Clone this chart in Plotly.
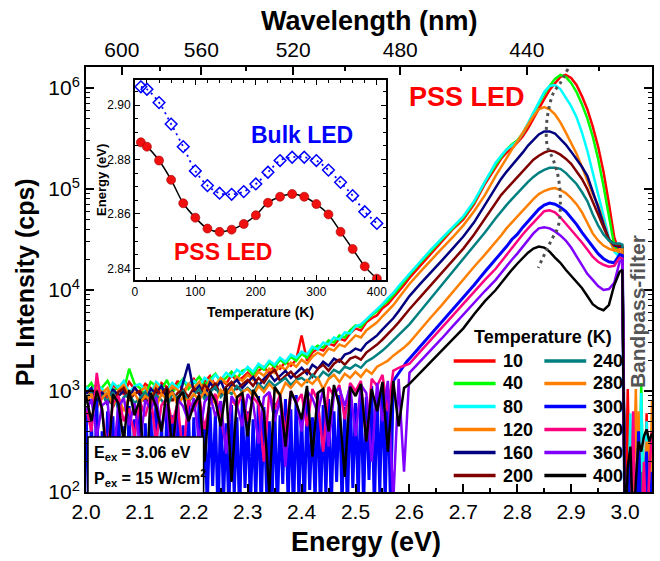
import plotly.graph_objects as go

# ---------------- main spectra data (log10 of PL intensity in cps) ----------------
E_NOISE = [2.00, 2.01, 2.02, 2.03, 2.04, 2.05, 2.06, 2.07, 2.08, 2.09,
           2.10, 2.11, 2.12, 2.13, 2.14, 2.15, 2.16, 2.17, 2.18, 2.19,
           2.20, 2.21, 2.22, 2.23, 2.24, 2.25, 2.26, 2.27, 2.28, 2.29,
           2.30, 2.31, 2.32, 2.33, 2.34, 2.35, 2.36, 2.37, 2.38, 2.39,
           2.40, 2.41, 2.42, 2.43, 2.44, 2.45, 2.46, 2.47, 2.48, 2.49,
           2.50, 2.51, 2.52, 2.53, 2.54, 2.55, 2.56, 2.57, 2.58, 2.59]
E_NOISE_FINE = [2.000, 2.005, 2.010, 2.015, 2.020, 2.025, 2.030, 2.035, 2.040, 2.045,
                2.050, 2.055, 2.060, 2.065, 2.070, 2.075, 2.080, 2.085, 2.090, 2.095,
                2.100, 2.105, 2.110, 2.115, 2.120, 2.125, 2.130, 2.135, 2.140, 2.145,
                2.150, 2.155, 2.160, 2.165, 2.170, 2.175, 2.180, 2.185, 2.190, 2.195,
                2.200, 2.205, 2.210, 2.215, 2.220, 2.225, 2.230, 2.235, 2.240, 2.245,
                2.250, 2.255, 2.260, 2.265, 2.270, 2.275, 2.280, 2.285, 2.290, 2.295,
                2.300, 2.305, 2.310, 2.315, 2.320, 2.325, 2.330, 2.335, 2.340, 2.345,
                2.350, 2.355, 2.360, 2.365, 2.370, 2.375, 2.380, 2.385, 2.390, 2.395,
                2.400, 2.405, 2.410, 2.415, 2.420, 2.425, 2.430, 2.435, 2.440, 2.445,
                2.450, 2.455, 2.460, 2.465, 2.470, 2.475, 2.480, 2.485, 2.490, 2.495,
                2.500, 2.505, 2.510, 2.515, 2.520, 2.525, 2.530, 2.535, 2.540, 2.545,
                2.550, 2.555, 2.560, 2.565, 2.570, 2.575, 2.580, 2.585, 2.590, 2.595]
E_PEAK = [2.60, 2.62, 2.64, 2.66, 2.68, 2.70, 2.72, 2.74,
          2.76, 2.77, 2.78, 2.79, 2.80, 2.81, 2.82, 2.83, 2.84, 2.85, 2.86, 2.87,
          2.88, 2.89, 2.90, 2.91, 2.92, 2.93, 2.94, 2.95, 2.96, 2.97, 2.98, 2.99, 2.995]
E_FILTER = [3.000, 3.005, 3.010, 3.015, 3.020, 3.025, 3.030, 3.035, 3.040, 3.045, 3.050]

TEMPS = [10, 40, 80, 120, 160, 200, 240, 280, 300, 320, 360, 400]
COLORS = ['#FF0000', '#00FF00', '#00FFFF', '#FF8000', '#000080', '#800000',
          '#008080', '#FF8000', '#0000FF', '#FF0080', '#8000FF', '#000000']
WIDTHS = [2.5, 2.5, 2.5, 2.5, 2.5, 2.5, 2.5, 2.5, 3.0, 2.5, 2.5, 2.5]

NOISE_10K = [3.05, 2.96, 3.08, 3.00, 2.93, 3.06, 3.01, 2.97, 3.09, 3.02,
             2.98, 3.07, 3.03, 2.92, 3.08, 3.04, 3.00, 3.10, 2.99, 3.06,
             3.12, 3.03, 3.09, 3.15, 3.05, 3.11, 3.07, 3.16, 3.10, 3.13,
             3.18, 3.12, 3.20, 3.24, 3.17, 3.26, 3.22, 3.29, 3.25, 3.31,
             3.55, 3.30, 3.38, 3.42, 3.40, 3.47, 3.45, 3.52, 3.50, 3.57,
             3.62, 3.60, 3.68, 3.72, 3.75, 3.82, 3.86, 3.92, 3.98, 4.05]
NOISE_40K = [3.02, 3.08, 2.97, 3.04, 3.10, 2.99, 3.05, 3.00, 3.22, 3.07,
             3.03, 2.96, 3.09, 3.05, 3.01, 3.11, 2.98, 3.06, 3.12, 3.02,
             3.08, 3.14, 3.06, 3.11, 3.17, 3.09, 3.13, 3.19, 3.12, 3.20,
             3.22, 3.16, 3.25, 3.21, 3.28, 3.24, 3.31, 3.27, 3.34, 3.30,
             3.37, 3.33, 3.41, 3.45, 3.43, 3.50, 3.48, 3.55, 3.53, 3.60,
             3.65, 3.63, 3.70, 3.75, 3.79, 3.85, 3.89, 3.95, 4.02, 4.08]
NOISE_80K = [3.04, 2.99, 3.06, 3.02, 2.96, 3.08, 3.03, 3.10, 2.98, 3.05,
             3.07, 3.01, 2.97, 3.09, 3.04, 3.00, 3.08, 3.03, 3.11, 3.06,
             3.10, 3.05, 3.13, 3.09, 3.16, 3.11, 3.18, 3.14, 3.21, 3.17,
             3.24, 3.19, 3.27, 3.23, 3.30, 3.26, 3.33, 3.29, 3.36, 3.33,
             3.39, 3.36, 3.44, 3.41, 3.48, 3.46, 3.53, 3.51, 3.58, 3.57,
             3.64, 3.66, 3.71, 3.76, 3.81, 3.86, 3.92, 3.97, 4.04, 4.10]
NOISE_120K = [3.00, 2.94, 3.05, 2.98, 3.03, 2.90, 3.01, 3.06, 2.96, 3.02,
              2.99, 3.04, 2.93, 3.06, 3.00, 2.97, 3.05, 3.01, 2.95, 3.07,
              3.03, 3.09, 3.00, 3.11, 3.06, 3.13, 3.08, 3.04, 3.14, 3.10,
              3.16, 3.11, 3.19, 3.15, 3.22, 3.18, 3.25, 3.21, 3.28, 3.24,
              3.31, 3.27, 3.34, 3.38, 3.35, 3.42, 3.40, 3.46, 3.44, 3.50,
              3.55, 3.53, 3.60, 3.64, 3.68, 3.74, 3.79, 3.85, 3.92, 3.99]
NOISE_160K = [2.97, 3.03, 2.90, 2.99, 2.86, 3.02, 2.95, 3.00, 2.92, 3.04,
              2.96, 2.89, 3.02, 2.98, 3.05, 2.93, 3.00, 2.87, 3.08, 3.27,
              2.99, 3.05, 2.94, 3.08, 3.02, 3.10, 2.97, 3.06, 3.11, 3.03,
              3.09, 3.14, 3.05, 3.12, 3.17, 3.10, 3.15, 3.20, 3.13, 3.18,
              3.23, 3.17, 3.26, 3.22, 3.29, 3.25, 3.32, 3.29, 3.36, 3.38,
              3.42, 3.40, 3.47, 3.51, 3.55, 3.61, 3.66, 3.72, 3.79, 3.87]
NOISE_200K = [2.95, 2.88, 3.01, 2.93, 2.98, 2.84, 2.99, 3.03, 2.91, 2.97,
              3.00, 2.92, 2.86, 3.02, 2.96, 3.04, 2.90, 2.98, 3.01, 2.94,
              3.03, 2.97, 3.06, 3.00, 3.08, 2.95, 3.04, 3.09, 3.02, 3.07,
              3.11, 3.05, 3.13, 3.08, 3.16, 3.21, 3.10, 3.15, 3.19, 3.13,
              3.17, 3.21, 3.14, 3.22, 3.26, 3.20, 3.27, 3.31, 3.26, 3.32,
              3.34, 3.31, 3.38, 3.42, 3.46, 3.51, 3.56, 3.62, 3.68, 3.75]
NOISE_240K = [2.92, 2.98, 2.85, 2.95, 2.90, 2.99, 2.82, 2.94, 2.97, 2.88,
              2.93, 2.99, 2.87, 2.96, 2.91, 2.83, 2.97, 2.93, 3.00, 2.89,
              2.96, 3.02, 2.92, 2.99, 3.04, 2.94, 3.01, 2.97, 3.05, 2.99,
              3.03, 2.98, 3.07, 3.02, 3.10, 3.05, 3.09, 3.13, 3.06, 3.11,
              3.13, 3.09, 3.16, 3.12, 3.19, 3.15, 3.21, 3.18, 3.24, 3.22,
              3.26, 3.23, 3.29, 3.32, 3.36, 3.40, 3.45, 3.50, 3.55, 3.61]
NOISE_280K = [2.90, 2.97, 2.83, 2.93, 2.99, 2.86, 2.95, 2.80, 2.94, 2.98,
              2.88, 2.95, 2.91, 2.84, 2.97, 2.92, 2.99, 2.86, 2.94, 2.90,
              2.97, 2.91, 3.00, 2.94, 2.88, 3.01, 2.96, 3.03, 2.93, 2.99,
              3.02, 2.95, 3.05, 2.99, 3.07, 3.01, 2.96, 3.08, 3.03, 3.10,
              3.05, 3.11, 3.07, 3.13, 3.02, 3.12, 3.16, 3.09, 3.17, 3.13,
              3.19, 3.14, 3.21, 3.17, 3.24, 3.27, 3.30, 3.35, 3.39, 3.43]
NOISE_300K = [2.85, 1.80, 2.70, 1.95, 2.90, 1.75, 2.60, 2.05, 2.80, 1.85,
              2.75, 1.70, 2.92, 2.00, 2.65, 1.80, 2.85, 1.90, 2.72, 1.78,
              2.88, 1.95, 2.68, 1.82, 2.80, 2.10, 2.93, 1.76, 2.70, 1.88,
              2.82, 1.72, 2.76, 2.02, 2.90, 1.84, 2.66, 1.92, 2.86, 1.78,
              2.74, 1.98, 2.94, 1.80, 2.70, 1.86, 2.84, 2.06, 2.78, 1.74,
              2.90, 1.90, 2.68, 1.82, 2.86, 1.96, 2.74, 1.76, 2.92, 2.04,
              2.80, 1.84, 2.72, 1.92, 2.95, 1.78, 2.84, 2.00, 2.70, 1.86,
              2.88, 1.80, 2.76, 2.08, 2.92, 1.88, 2.82, 1.74, 2.96, 1.94,
              2.78, 1.82, 2.90, 2.02, 2.74, 1.90, 2.98, 1.78, 2.86, 1.96,
              2.92, 1.84, 2.80, 2.10, 2.96, 1.88, 2.84, 1.80, 3.00, 2.04,
              2.88, 1.92, 3.02, 1.86, 2.94, 2.12, 3.05, 1.82, 2.98, 2.00,
              3.08, 1.90, 3.02, 1.85, 3.10, 3.14, 3.18, 3.22, 3.26, 3.29]
NOISE_320K = [2.85, 2.60, 3.18, 2.78, 2.40, 2.88, 2.95, 2.70, 2.83, 2.55,
              2.90, 2.75, 2.96, 2.50, 2.86, 2.93, 2.68, 2.88, 2.35, 2.91,
              2.80, 2.95, 2.62, 2.89, 2.97, 2.74, 2.45, 2.92, 2.84, 2.98,
              2.70, 2.94, 2.87, 2.30, 2.99, 2.82, 2.96, 2.58, 3.00, 2.88,
              2.97, 2.65, 3.02, 2.90, 2.40, 3.04, 2.95, 3.06, 2.72, 3.08,
              3.00, 3.10, 2.50, 3.12, 3.05, 3.16, 2.80, 3.20, 3.23, 3.25]
NOISE_360K = [2.80, 2.92, 2.55, 2.86, 2.90, 2.30, 2.84, 2.93, 2.66, 2.88,
              2.45, 2.91, 2.82, 2.94, 2.60, 2.87, 2.20, 2.92, 2.85, 2.70,
              2.93, 2.50, 2.89, 2.96, 2.75, 2.90, 2.38, 2.95, 2.86, 2.65,
              2.97, 2.88, 2.48, 2.94, 2.99, 2.70, 2.92, 2.25, 2.98, 2.90,
              2.60, 3.00, 2.93, 2.78, 3.02, 2.45, 2.97, 3.03, 2.85, 3.05,
              2.55, 3.06, 2.98, 2.30, 3.08, 2.70, 3.10, 1.90, 3.12, 2.20]
NOISE_400K = [2.95, 2.70, 3.00, 2.82, 2.20, 2.97, 2.88, 2.50, 3.01, 2.76,
              2.92, 1.90, 2.98, 2.85, 2.60, 3.02, 2.40, 2.93, 2.99, 2.70,
              2.86, 2.96, 2.30, 3.00, 2.90, 2.65, 3.03, 2.10, 2.94, 2.98,
              2.55, 3.01, 2.92, 2.80, 2.00, 3.04, 2.96, 2.45, 3.00, 2.88,
              2.72, 3.05, 2.35, 2.98, 3.02, 2.60, 3.06, 2.85, 2.15, 3.04,
              2.95, 3.07, 2.50, 3.02, 2.80, 3.09, 2.40, 3.10, 2.65, 3.03]

PEAK_10K = [4.12, 4.24, 4.37, 4.48, 4.60, 4.70, 4.85, 5.05,
            5.22, 5.30, 5.36, 5.40, 5.46, 5.52, 5.60, 5.70, 5.80, 5.89, 5.98, 6.05,
            6.11, 6.13, 6.10, 6.03, 5.92, 5.79, 5.62, 5.42, 5.17, 4.86, 4.52, 4.36, 4.32]
PEAK_40K = [4.15, 4.27, 4.39, 4.50, 4.61, 4.72, 4.87, 5.07,
            5.24, 5.32, 5.39, 5.44, 5.48, 5.55, 5.64, 5.75, 5.85, 5.94, 6.02, 6.09,
            6.13, 6.11, 6.05, 5.96, 5.84, 5.70, 5.52, 5.30, 5.03, 4.72, 4.44, 4.35, 4.32]
PEAK_80K = [4.17, 4.29, 4.40, 4.51, 4.62, 4.73, 4.88, 5.07,
            5.26, 5.33, 5.39, 5.43, 5.47, 5.55, 5.65, 5.76, 5.86, 5.96, 6.02, 6.03,
            5.99, 5.91, 5.82, 5.71, 5.56, 5.38, 5.17, 4.95, 4.74, 4.52, 4.38, 4.33, 4.30]
PEAK_120K = [4.06, 4.18, 4.30, 4.41, 4.52, 4.64, 4.78, 4.94,
             5.13, 5.22, 5.31, 5.39, 5.47, 5.56, 5.64, 5.72, 5.79, 5.81, 5.79, 5.74,
             5.66, 5.56, 5.45, 5.35, 5.22, 5.08, 4.95, 4.84, 4.68, 4.50, 4.40, 4.37, 4.36]
PEAK_160K = [3.94, 4.06, 4.17, 4.29, 4.41, 4.53, 4.67, 4.84,
             5.02, 5.10, 5.17, 5.23, 5.29, 5.36, 5.43, 5.49, 5.54, 5.57, 5.57, 5.55,
             5.50, 5.44, 5.37, 5.30, 5.22, 5.13, 4.98, 4.82, 4.65, 4.50, 4.44, 4.43, 4.42]
PEAK_200K = [3.81, 3.93, 4.05, 4.17, 4.29, 4.41, 4.55, 4.71,
             4.87, 4.94, 5.00, 5.06, 5.12, 5.18, 5.24, 5.29, 5.33, 5.36, 5.38, 5.37,
             5.34, 5.30, 5.25, 5.18, 5.10, 5.00, 4.88, 4.75, 4.62, 4.50, 4.45, 4.44, 4.43]
PEAK_240K = [3.66, 3.79, 3.92, 4.05, 4.17, 4.30, 4.43, 4.57,
             4.71, 4.78, 4.84, 4.90, 4.96, 5.02, 5.07, 5.12, 5.16, 5.19, 5.21, 5.21,
             5.20, 5.16, 5.11, 5.05, 4.97, 4.88, 4.75, 4.64, 4.55, 4.49, 4.46, 4.46, 4.45]
PEAK_280K = [3.48, 3.61, 3.73, 3.85, 3.98, 4.10, 4.23, 4.35,
             4.47, 4.54, 4.61, 4.67, 4.72, 4.78, 4.84, 4.90, 4.95, 4.98, 5.00, 5.01,
             4.99, 4.96, 4.91, 4.85, 4.77, 4.66, 4.56, 4.49, 4.44, 4.41, 4.39, 4.40, 4.40]
PEAK_300K = [3.32, 3.44, 3.56, 3.68, 3.80, 3.92, 4.05, 4.18,
             4.30, 4.37, 4.43, 4.50, 4.55, 4.62, 4.68, 4.74, 4.80, 4.84, 4.86, 4.85,
             4.82, 4.78, 4.72, 4.65, 4.57, 4.50, 4.42, 4.36, 4.31, 4.28, 4.27, 4.35, 4.34]
PEAK_320K = [3.27, 3.39, 3.51, 3.63, 3.74, 3.86, 3.98, 4.10,
             4.21, 4.28, 4.35, 4.42, 4.48, 4.55, 4.61, 4.67, 4.73, 4.78, 4.79, 4.77,
             4.72, 4.66, 4.60, 4.53, 4.47, 4.40, 4.33, 4.28, 4.25, 4.23, 4.24, 4.32, 4.31]
PEAK_360K = [3.18, 3.29, 3.41, 3.52, 3.64, 3.76, 3.87, 3.99,
             4.10, 4.17, 4.24, 4.30, 4.36, 4.43, 4.50, 4.56, 4.61, 4.62, 4.61, 4.58,
             4.54, 4.49, 4.42, 4.33, 4.24, 4.16, 4.10, 4.04, 4.00, 4.01, 4.07, 4.28, 4.30]
PEAK_400K = [3.07, 3.18, 3.29, 3.40, 3.51, 3.62, 3.76, 3.89,
             4.00, 4.07, 4.14, 4.20, 4.26, 4.32, 4.37, 4.41, 4.43, 4.42, 4.38, 4.32,
             4.27, 4.20, 4.14, 4.08, 4.02, 3.94, 3.86, 3.82, 3.80, 3.85, 4.05, 4.18, 4.20]

FILTER_10K = [1.5, 3.02, 1.6, 1.5, 2.2, 1.5, 1.8, 1.5, 2.78, 1.5, 2.3]
FILTER_40K = [1.5, 1.6, 2.2, 1.5, 1.8, 1.5, 3.08, 1.5, 2.0, 1.5, 1.7]
FILTER_80K = [1.5, 1.8, 2.78, 1.5, 2.3, 1.5, 2.98, 1.6, 2.7, 1.5, 2.6]
FILTER_120K = [1.5, 2.2, 1.5, 1.8, 3.02, 1.5, 2.0, 1.5, 2.5, 1.6, 2.9]
FILTER_160K = [1.5, 1.5, 1.9, 1.5, 2.1, 1.5, 1.8, 1.5, 2.0, 1.5, 1.6]
FILTER_200K = [1.5, 1.7, 1.5, 2.0, 1.5, 1.9, 1.5, 2.1, 1.5, 1.8, 1.5]
FILTER_240K = [1.5, 1.5, 2.0, 1.5, 1.7, 1.5, 2.2, 1.5, 1.8, 1.5, 2.0]
FILTER_280K = [1.5, 1.6, 1.5, 2.1, 1.5, 2.8, 1.5, 2.2, 1.5, 2.5, 1.5]
FILTER_300K = [1.5, 1.5, 2.4, 1.6, 1.5, 2.6, 1.5, 1.8, 2.4, 1.5, 2.2]
FILTER_320K = [1.5, 1.6, 1.5, 2.8, 1.5, 2.0, 1.5, 2.3, 1.5, 2.2, 2.6]
FILTER_360K = [1.5, 1.5, 1.5, 1.8, 1.5, 1.5, 2.0, 1.5, 1.5, 1.7, 1.5]
FILTER_400K = [1.5, 2.25, 2.45, 1.6, 2.1, 2.5, 2.4, 2.55, 2.62, 2.5, 2.58]

# peak-position guide (dotted)
DOT_E = [2.894, 2.880, 2.867, 2.858, 2.854, 2.856, 2.866, 2.876, 2.880, 2.876, 2.864, 2.852, 2.839]
DOT_LOG = [6.19, 6.05, 5.95, 5.78, 5.60, 5.42, 5.30, 5.12, 4.89, 4.63, 4.50, 4.37, 4.22]

# ---------------- inset data ----------------
T_INSET = [10, 20, 40, 60, 80, 100, 120, 140, 160, 180, 200, 220, 240, 260, 280, 300, 320, 340, 360, 380, 400]
E_PSS = [2.8863, 2.8847, 2.8796, 2.8725, 2.8639, 2.8586, 2.8546, 2.8534, 2.8542, 2.8563, 2.8595,
         2.8641, 2.8663, 2.8673, 2.8663, 2.8636, 2.8598, 2.8534, 2.8471, 2.8407, 2.8362]
E_BULK = [2.9067, 2.9058, 2.9009, 2.8930, 2.8847, 2.8758, 2.8704, 2.8676, 2.8672, 2.8682, 2.8710,
          2.8753, 2.8796, 2.8808, 2.8808, 2.8796, 2.8761, 2.8716, 2.8667, 2.8608, 2.8565]

# axis ticks
E_TICKS = [2.0, 2.1, 2.2, 2.3, 2.4, 2.5, 2.6, 2.7, 2.8, 2.9, 3.0]
WL_MAJOR = [600, 560, 520, 480, 440]
WL_MINOR = [620, 580, 540, 500, 460, 420]
HC = 1239.84

NOISES = [NOISE_10K, NOISE_40K, NOISE_80K, NOISE_120K, NOISE_160K, NOISE_200K,
          NOISE_240K, NOISE_280K, NOISE_300K, NOISE_320K, NOISE_360K, NOISE_400K]
PEAKS = [PEAK_10K, PEAK_40K, PEAK_80K, PEAK_120K, PEAK_160K, PEAK_200K,
         PEAK_240K, PEAK_280K, PEAK_300K, PEAK_320K, PEAK_360K, PEAK_400K]
FILTERS = [FILTER_10K, FILTER_40K, FILTER_80K, FILTER_120K, FILTER_160K, FILTER_200K,
           FILTER_240K, FILTER_280K, FILTER_300K, FILTER_320K, FILTER_360K, FILTER_400K]

# ---------------- layout geometry ----------------
W, H = 660, 561
ML, MR, MT, MB = 86, 6, 67, 69
PW, PH = W - ML - MR, H - MT - MB


def px(x):
    return (x - ML) / PW


def py(y):
    return (H - MB - y) / PH


FONT = 'Liberation Sans, Arial, sans-serif'

fig = go.Figure()

for t, col, lw, nz, pk, fl in zip(TEMPS, COLORS, WIDTHS, NOISES, PEAKS, FILTERS):
    e_low = E_NOISE_FINE if len(nz) == len(E_NOISE_FINE) else E_NOISE
    xs = e_low + E_PEAK + E_FILTER
    ys = [10 ** v for v in nz + pk + fl]
    fig.add_trace(go.Scatter(x=xs, y=ys, mode='lines', name=f'{t} K',
                             line=dict(color=col, width=lw), showlegend=False,
                             hoverinfo='skip'))

fig.add_trace(go.Scatter(x=DOT_E, y=[10 ** v for v in DOT_LOG], mode='lines',
                         line=dict(color='#505050', width=3, dash='3px,4px', shape='spline'),
                         showlegend=False, hoverinfo='skip'))

# dummy trace to instantiate the wavelength axis
fig.add_trace(go.Scatter(x=[], y=[], xaxis='x2', yaxis='y', showlegend=False, hoverinfo='skip'))

# inset traces
fig.add_trace(go.Scatter(x=T_INSET, y=E_BULK, mode='lines+markers', xaxis='x3', yaxis='y3',
                         line=dict(color='#0000FF', width=1.8, dash='2px,4px', shape='spline'),
                         marker=dict(symbol='diamond-open', size=9, color='#0000FF',
                                     line=dict(color='#0000FF', width=1.5)),
                         showlegend=False, hoverinfo='skip'))
fig.add_trace(go.Scatter(x=T_INSET, y=E_PSS, mode='lines+markers', xaxis='x3', yaxis='y3',
                         line=dict(color='black', width=1.5, shape='spline'),
                         marker=dict(symbol='circle', size=9, color='#F01010',
                                     line=dict(color='#A00000', width=0.6)),
                         showlegend=False, hoverinfo='skip'))

axis_common = dict(showgrid=False, zeroline=False, showline=True, linecolor='black',
                   ticks='inside', tickcolor='black')

minor_log = [k * 10 ** d for d in range(2, 6) for k in range(2, 10)]

fig.update_layout(
    width=W, height=H, autosize=False,
    margin=dict(l=ML, r=MR, t=MT, b=MB, pad=0),
    paper_bgcolor='white', plot_bgcolor='white',
    font=dict(family=FONT, color='black'),
    hovermode=False,
    xaxis=dict(**axis_common, domain=[0, 1], range=[2.0, 3.05], linewidth=2,
               tickmode='array', tickvals=E_TICKS, ticktext=[f'{v:.1f}' for v in E_TICKS],
               ticklen=8, tickwidth=1.5, mirror=False,
               minor=dict(ticks='inside', ticklen=4, tickwidth=1.5, tickcolor='black',
                          tickmode='array', tickvals=[v + 0.05 for v in E_TICKS]),
               tickfont=dict(size=21, family=FONT)),
    xaxis2=dict(**axis_common, overlaying='x', anchor='y', side='top', range=[2.0, 3.05],
                linewidth=2, tickmode='array', tickvals=[HC / w for w in WL_MAJOR],
                ticktext=[str(w) for w in WL_MAJOR], ticklen=8, tickwidth=1.5,
                minor=dict(ticks='inside', ticklen=4, tickwidth=1.5, tickcolor='black',
                           tickmode='array', tickvals=[HC / w for w in WL_MINOR]),
                tickfont=dict(size=21, family=FONT)),
    yaxis=dict(**axis_common, type='log', range=[2.0, 6.208], linewidth=2, mirror='ticks',
               tickmode='array', tickvals=[1e2, 1e3, 1e4, 1e5, 1e6],
               ticktext=['10<sup>2</sup>', '10<sup>3</sup>', '10<sup>4</sup>',
                         '10<sup>5</sup>', '10<sup>6</sup>'],
               ticklen=8, tickwidth=1.5,
               minor=dict(ticks='inside', ticklen=4, tickwidth=1.2, tickcolor='black',
                          tickmode='array', tickvals=minor_log),
               tickfont=dict(size=21, family=FONT)),
    xaxis3=dict(**axis_common, domain=[px(135), px(387)], anchor='y3', range=[0, 415],
                linewidth=1.5, mirror='ticks', tick0=0, dtick=100, ticklen=5, tickwidth=1.2,
                minor=dict(ticks='inside', ticklen=3, tickwidth=1, tickcolor='black',
                           tick0=0, dtick=20),
                tickfont=dict(size=12, family=FONT)),
    yaxis3=dict(**axis_common, domain=[py(280), py(80)], anchor='x3', range=[2.8357, 2.9092],
                linewidth=1.5, mirror='ticks', tick0=2.84, dtick=0.02, tickformat='.2f',
                ticklen=5, tickwidth=1.2,
                minor=dict(ticks='inside', ticklen=3, tickwidth=1, tickcolor='black',
                           tick0=2.84, dtick=0.005),
                tickfont=dict(size=12, family=FONT)),
)

shapes = []
annotations = []


def text(x, y, s, size, color='black', bold=True, angle=0, xanchor='center', yanchor='middle'):
    annotations.append(dict(x=px(x), y=py(y), xref='paper', yref='paper', text=s,
                            showarrow=False, textangle=angle, xanchor=xanchor, yanchor=yanchor,
                            font=dict(family=FONT, size=size, color=color,
                                      weight='bold' if bold else 'normal')))


# axis titles
text(367, 542, 'Energy (eV)', 27)
text(370, 21, 'Wavelength (nm)', 27)
text(25, 282, 'PL Intensity (cps)', 25, angle=-90)

# inset titles and labels
text(261, 312, 'Temperature (K)', 14)
text(101, 180, 'Energy (eV)', 13, angle=-90)
text(303, 135, 'Bulk LED', 23, color='#0000FF')
text(223, 252, 'PSS LED', 23, color='#FF0000')

# main labels
text(468, 97, 'PSS LED', 27, color='#FF0000')
text(639, 312, 'Bandpass-filter', 21, color='#555555', angle=-90)

# excitation box
shapes.append(dict(type='rect', xref='paper', yref='paper', x0=px(88), x1=px(204),
                   y0=py(493), y1=py(437), fillcolor='white',
                   line=dict(color='black', width=1.5), layer='above'))
text(92, 453, 'E<sub>ex</sub> = 3.06 eV', 16, xanchor='left')
text(92, 478, 'P<sub>ex</sub> = 15 W/cm<sup>2</sup>', 16, xanchor='left')

# legend (manual, two columns)
text(545, 337, 'Temperature (K)', 18)
ROW_Y = [361, 383.5, 406.5, 429.5, 452.5, 475.5]
for i, (t, col) in enumerate(zip(TEMPS, COLORS)):
    c, r = divmod(i, 6)
    x0, x1, xl = (455, 497, 502) if c == 0 else (546, 588, 593)
    yy = ROW_Y[r]
    shapes.append(dict(type='line', xref='paper', yref='paper', x0=px(x0), x1=px(x1),
                       y0=py(yy), y1=py(yy), line=dict(color=col, width=3.5), layer='above'))
    text(xl, yy, str(t), 18, xanchor='left')

fig.update_layout(shapes=shapes, annotations=annotations)

fig.write_html('out.html')
